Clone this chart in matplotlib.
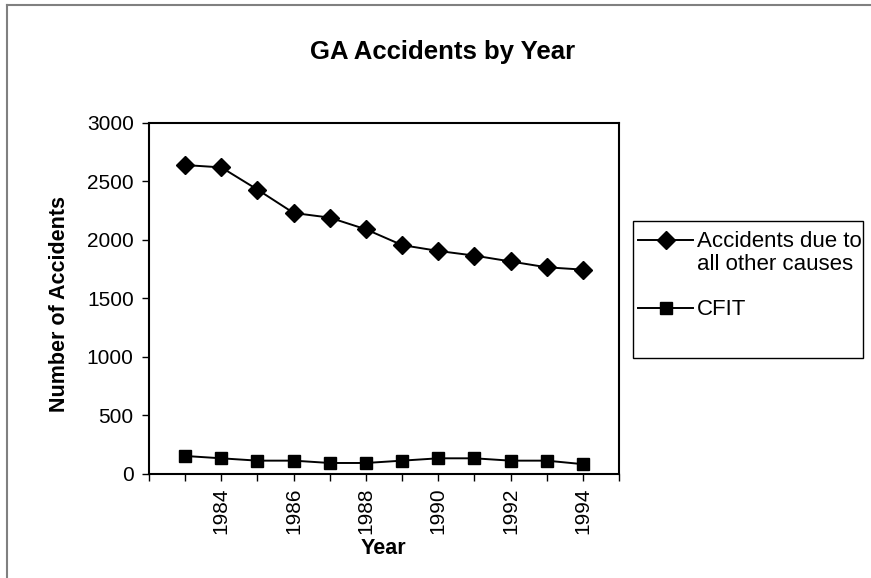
import matplotlib
matplotlib.use("Agg")
import matplotlib.pyplot as plt
from matplotlib.lines import Line2D
from matplotlib.patches import Rectangle

# --- data -------------------------------------------------------------------
years = [1983, 1984, 1985, 1986, 1987, 1988, 1989, 1990, 1991, 1992, 1993, 1994]
other_causes = [2640, 2620, 2430, 2230, 2190, 2090, 1955, 1905, 1865, 1815, 1765, 1745]
cfit = [150, 130, 110, 110, 90, 90, 110, 130, 130, 110, 110, 80]
labelled_years = [1984, 1986, 1988, 1990, 1992, 1994]
series_names = ["Accidents due to\nall other causes", "CFIT"]

plt.rcParams["font.family"] = ["Liberation Sans", "DejaVu Sans"]

W, H = 871, 578
fig = plt.figure(figsize=(W / 100, H / 100), dpi=100)
ax = fig.add_axes([149 / W, 1 - 473.5 / H, 470 / W, 350.5 / H])

styles = [dict(marker="D", ms=9), dict(marker="s", ms=8.5)]
for vals, st in zip([other_causes, cfit], styles):
    ax.plot(years, vals, color="black", lw=1.4, **st)

# category-style x axis: ticks at every year, labels every other year
xt = list(range(years[0] - 1, years[-1] + 2))
ax.set_xlim(xt[0], xt[-1])
ax.set_xticks(xt)
ax.set_xticklabels([str(y) if y in labelled_years else "" for y in xt],
                   rotation=90, fontsize=15)
ax.set_ylim(0, 3000)
ax.set_yticks(range(0, 3001, 500))
ax.tick_params(axis="y", labelsize=15, length=5, width=1, pad=6)
ax.tick_params(axis="x", length=5, width=1, pad=5)
for s in ax.spines.values():
    s.set_linewidth(1.5)

ax.set_xlabel("Year", fontsize=15.5, fontweight="bold")
ax.xaxis.set_label_coords(0.498, (473.5 - 549) / 350.5)
ax.xaxis.label.set_va("center")
ax.set_ylabel("Number of Accidents", fontsize=15.5, fontweight="bold")
ax.yaxis.set_label_coords((59.5 - 149) / 470, (473.5 - 304.5) / 350.5)
ax.yaxis.label.set_va("center")

fig.text(443 / W, 1 - 52 / H, "GA Accidents by Year", ha="center", va="center",
         fontsize=18.5, fontweight="bold")

# --- legend: Excel-style box, key aligned with first text line ---------------
fig.patches.append(Rectangle((633 / W, 1 - 358 / H), 230 / W, 137 / H,
                             transform=fig.transFigure, fill=False,
                             edgecolor="black", lw=1))
for name, st, yy in zip(series_names, styles, [240, 308]):
    y = 1 - yy / H
    fig.lines.append(Line2D([638 / W, 693 / W], [y, y], transform=fig.transFigure,
                            color="black", lw=1.4))
    fig.lines.append(Line2D([665.5 / W], [y], transform=fig.transFigure,
                            color="black", ls="none", **st))
    fig.text(697 / W, 1 - (yy - 9) / H, name, ha="left", va="top",
             fontsize=16, linespacing=1.15)

# outer chart border (only left and top survive in the original crop)
fig.lines.append(Line2D([6.5 / W, 6.5 / W], [0, 1 - 4.5 / H],
                        transform=fig.transFigure, color="#808080", lw=1.5))
fig.lines.append(Line2D([6.5 / W, 1], [1 - 4.5 / H, 1 - 4.5 / H],
                        transform=fig.transFigure, color="#808080", lw=1.5))

fig.savefig("out.png", dpi=100)
